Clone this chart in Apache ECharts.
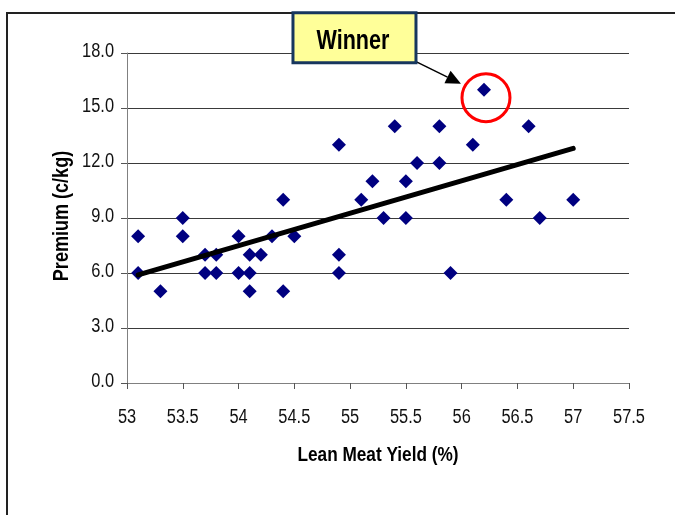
<!DOCTYPE html>
<html>
<head>
<meta charset="utf-8">
<script src="https://cdn.jsdelivr.net/npm/echarts@6/dist/echarts.min.js"></script>
<style>
  html, body { margin: 0; padding: 0; background: #fff; }
  #chart { width: 675px; height: 515px; }
</style>
</head>
<body>
<div id="chart"></div>
<script>
// lean meat yield (%) and premium (c/kg) of each carcass
const yieldPct = [53.1, 53.1, 53.3, 53.5, 53.5, 53.7, 53.7, 53.8, 53.8, 54.0, 54.0, 54.1, 54.1, 54.1,
  54.2, 54.3, 54.4, 54.4, 54.5, 54.9, 54.9, 54.9, 55.1, 55.2, 55.3, 55.4, 55.5, 55.5, 55.6, 55.8,
  55.8, 55.9, 56.1, 56.2, 56.4, 56.6, 56.7, 57.0]
const premium = [8, 6, 5, 9, 8, 7, 6, 7, 6, 8, 6, 7, 6, 5,
  7, 8, 10, 5, 8, 13, 7, 6, 10, 11, 9, 14, 11, 9, 12, 14,
  12, 6, 13, 16, 10, 14, 9, 10]
// trend line end points
const trendLine = [[53.1, 5.9], [57.0, 12.8]]
const winnerPoint = [56.2, 16]
const xTicks = [53, 53.5, 54, 54.5, 55, 55.5, 56, 56.5, 57, 57.5]
const yTicks = [0, 3, 6, 9, 12, 15, 18]

// narrow look: Liberation Sans squeezed horizontally
const FONT = '"Liberation Sans", Arial, sans-serif'
const NARROW = 0.82

const chart = echarts.init(document.getElementById('chart'))

const option = {
  animation: false,
  grid: {
    left: 127,
    right: 46,
    top: 53,
    bottom: 132
  },
  xAxis: {
    type: 'value',
    min: 53,
    max: 57.5,
    interval: 0.5,
    splitLine: { show: false },
    axisLine: { lineStyle: { color: '#808080', width: 1 } },
    axisTick: { length: 6, lineStyle: { color: '#555' } },
    axisLabel: { show: false }
  },
  yAxis: {
    type: 'value',
    min: 0,
    max: 18,
    interval: 3,
    axisLine: { show: true, lineStyle: { color: '#808080', width: 1 } },
    axisTick: { show: true, length: 6, lineStyle: { color: '#555' } },
    splitLine: { lineStyle: { color: '#3a3a3a', width: 1 } },
    axisLabel: { show: false }
  },
  series: [
    {
      name: 'Premium',
      type: 'scatter',
      symbol: 'diamond',
      symbolSize: 14,
      itemStyle: { color: '#000080', opacity: 1 },
      data: yieldPct.map((x, i) => [x, premium[i]]),
      z: 2
    },
    {
      name: 'Trend',
      type: 'line',
      symbol: 'none',
      lineStyle: { color: '#000', width: 5, cap: 'round' },
      data: trendLine,
      z: 3
    }
  ]
}

chart.setOption(option)

const graphics = [
  {
    type: 'rect',
    shape: { x: 7, y: 13, width: 700, height: 600 },
    style: { fill: 'none', stroke: '#222', lineWidth: 2 },
    silent: true,
    z: -1
  }
]

// tick labels placed on the axis positions
xTicks.forEach(v => {
  const pt = chart.convertToPixel({ gridIndex: 0 }, [v, 0])
  graphics.push({
    type: 'text',
    x: pt[0],
    y: pt[1] + 34,
    scaleX: NARROW,
    style: { text: String(v), font: '20px ' + FONT, fill: '#111', align: 'center', verticalAlign: 'middle' }
  })
})
yTicks.forEach(v => {
  const pt = chart.convertToPixel({ gridIndex: 0 }, [53, v])
  graphics.push({
    type: 'text',
    x: pt[0] - 13,
    y: pt[1] - 2,
    scaleX: NARROW,
    style: { text: v.toFixed(1), font: '20px ' + FONT, fill: '#111', align: 'right', verticalAlign: 'middle' }
  })
})

// axis titles
graphics.push({
  type: 'text',
  x: 62,
  y: 216,
  rotation: Math.PI / 2,
  scaleX: NARROW,
  style: { text: 'Premium (c/kg)', font: 'bold 22px ' + FONT, fill: '#000', align: 'center', verticalAlign: 'middle' }
})
graphics.push({
  type: 'text',
  x: 378,
  y: 455,
  scaleX: NARROW,
  style: { text: 'Lean Meat Yield (%)', font: 'bold 21px ' + FONT, fill: '#000', align: 'center', verticalAlign: 'middle' }
})

// callout around the winner
const p = chart.convertToPixel({ seriesIndex: 0 }, winnerPoint)
const boxX = p[0] - 191
const boxY = p[1] - 77
const tail = [p[0] - 68, p[1] - 28]
const tip = [p[0] - 23, p[1] - 6]
const dx = tip[0] - tail[0]
const dy = tip[1] - tail[1]
const len = Math.sqrt(dx * dx + dy * dy)
const ux = dx / len
const uy = dy / len
const headLen = 15
const headHalf = 7
const base = [tip[0] - ux * headLen, tip[1] - uy * headLen]

graphics.push(
  {
    type: 'circle',
    shape: { cx: p[0] + 2, cy: p[1] + 8, r: 24 },
    style: { fill: 'none', stroke: '#ff0000', lineWidth: 3 },
    z: 10
  },
  {
    type: 'line',
    shape: { x1: tail[0], y1: tail[1], x2: base[0], y2: base[1] },
    style: { stroke: '#000', lineWidth: 1.5 },
    z: 10
  },
  {
    type: 'polygon',
    shape: {
      points: [
        tip,
        [base[0] - uy * headHalf, base[1] + ux * headHalf],
        [base[0] + uy * headHalf, base[1] - ux * headHalf]
      ]
    },
    style: { fill: '#000' },
    z: 10
  },
  {
    type: 'rect',
    shape: { x: boxX, y: boxY, width: 123, height: 50 },
    style: { fill: '#ffff99', stroke: '#17375e', lineWidth: 3 },
    z: 11
  },
  {
    type: 'text',
    x: boxX + 60,
    y: boxY + 29,
    scaleX: 0.77,
    style: { text: 'Winner', font: 'bold 28px ' + FONT, fill: '#000', align: 'center', verticalAlign: 'middle' },
    z: 12
  }
)

chart.setOption({ graphic: graphics })
</script>
</body>
</html>
